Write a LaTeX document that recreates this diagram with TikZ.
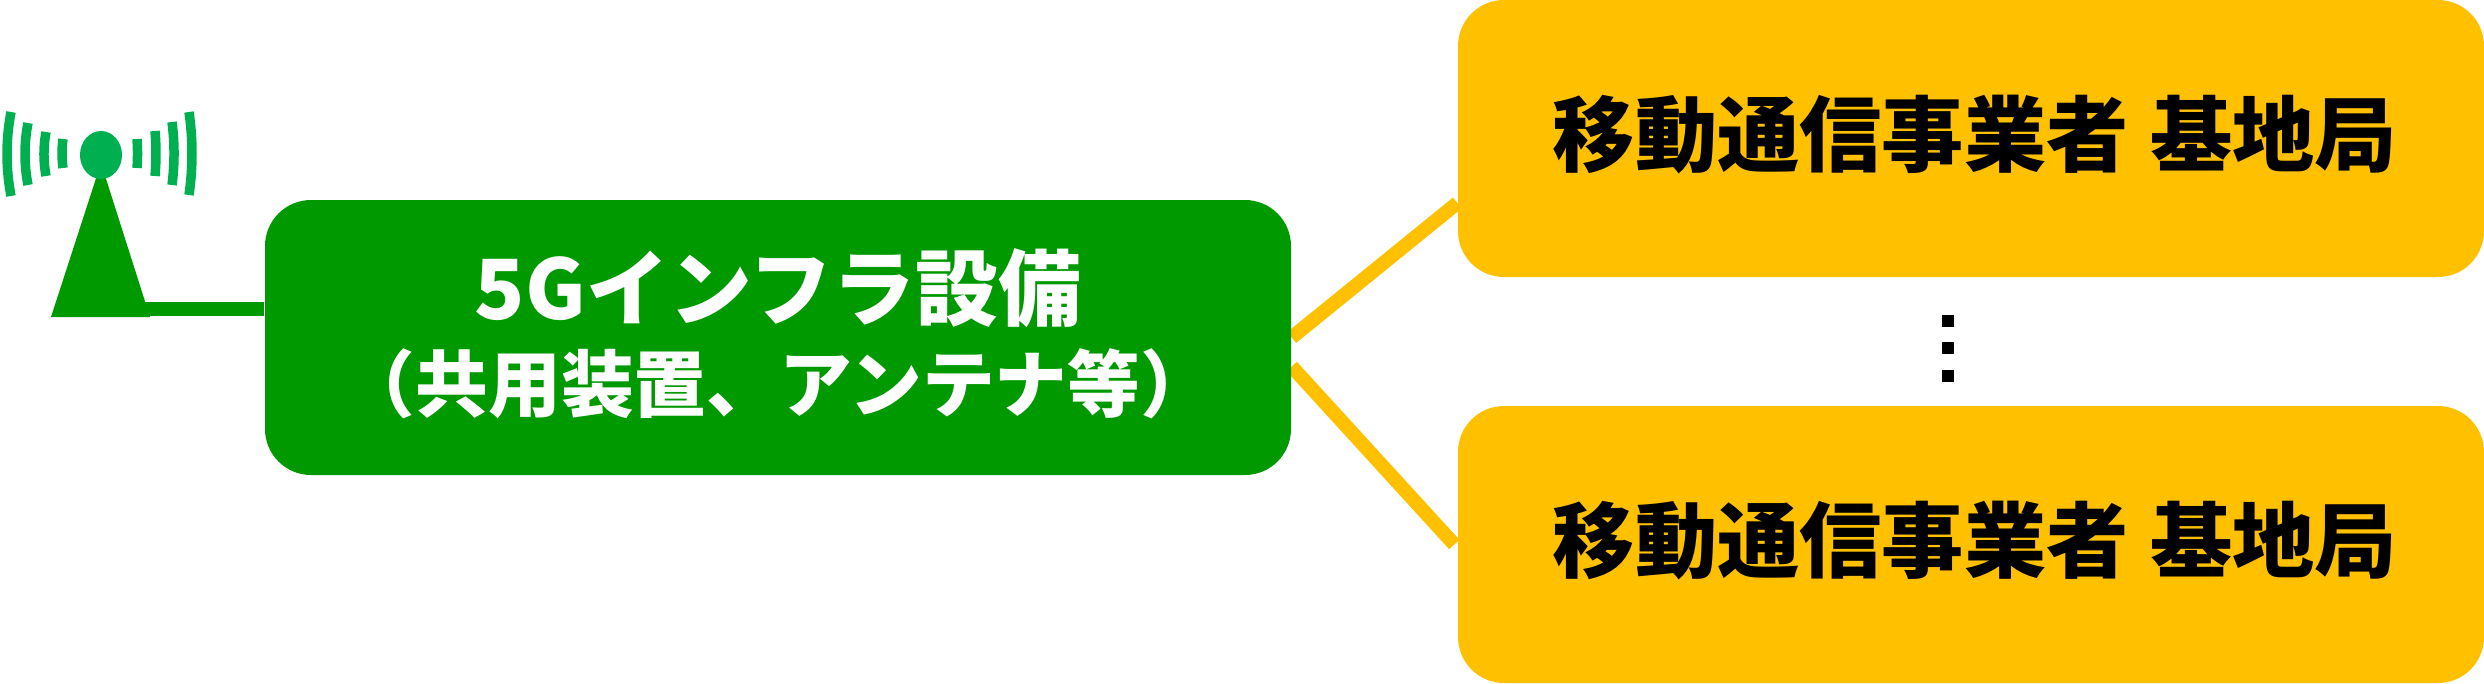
\documentclass[tikz,border=0pt]{standalone}
\usepackage{fontspec}
\setmainfont{Noto Sans CJK JP}
\usepackage{tikz}
\usetikzlibrary{backgrounds}
\definecolor{infragreen}{HTML}{009900}
\definecolor{wavegreen}{HTML}{00B050}
\definecolor{stationorange}{HTML}{FFC000}
\tikzset{
    infrabox/.style={fill=infragreen,text=white,font=\bfseries,align=center,rounded corners=0.46cm,
        minimum width=10.26cm,minimum height=2.75cm,inner sep=0pt},
    stationbox/.style={fill=stationorange,text=black,font=\bfseries,align=center,rounded corners=0.46cm,
        minimum width=10.26cm,minimum height=2.77cm,inner sep=0pt},
    feedline/.style={line width=0.14cm},
    waveline/.style={wavegreen,line width=0.095cm},
    vdot/.style={fill=black,minimum size=0.12cm,inner sep=0pt},
}
\newcommand{\lifttext}[1]{\raisebox{0.04cm}[\height][\depth]{#1}}
\newcommand{\stationtext}{\fontsize{23.4pt}{28pt}\selectfont\hspace*{0.08cm}\lifttext{移動通信事業者\hspace{0.22cm}基地局}}
\begin{document}
\begin{tikzpicture}
        \useasboundingbox (0,0) rectangle (24.84,6.83);
        % --- Boxes ---
        \node[infrabox] (infra) at (7.78,3.455) {\fontsize{23.6pt}{27pt}\selectfont\lifttext{5Gインフラ設備}\\[0.17cm]\fontsize{20.7pt}{27pt}\selectfont\lifttext{（共用装置、アンテナ等）}};
        \node[stationbox] (upper) at (19.71,5.445) {\stationtext};
        \node[stationbox] (lower) at (19.71,1.385) {\stationtext};
        % --- Links ---
        \begin{scope}[on background layer]
            \draw[feedline,stationorange] (infra.east) -- ([yshift=-0.645cm]upper.west);
            \draw[feedline,stationorange] ([yshift=-0.29cm]infra.east) -- ([xshift=-0.03cm]lower.west);
        \end{scope}
        % --- Antenna ---
        \begin{scope}
            \fill[infragreen] (0.51,3.66) -- (1.50,3.66) -- (1.01,5.20) -- cycle;
            \fill[wavegreen] (1.01,5.28) ellipse (0.21 and 0.24);
            \coordinate (mast) at (1.45,3.74);
            \foreach \xa/\xc/\ytop/\ybot in {0.11/0.057/5.71/4.87,0.28/0.24/5.60/4.98,0.46/0.433/5.51/5.07,0.63/0.617/5.44/5.15,
                1.37/1.377/5.44/5.15,1.55/1.563/5.52/5.07,1.72/1.747/5.61/4.98,1.89/1.93/5.71/4.88}
                \draw[waveline] (\xa,\ytop) .. controls ({\xc},{\ytop-(\ytop-\ybot)/3}) and ({\xc},{\ybot+(\ytop-\ybot)/3}) .. (\xa,\ybot);
        \end{scope}
        \begin{scope}[on background layer]
            \draw[feedline,infragreen] (mast) -- ([yshift=0.285cm]infra.west);
        \end{scope}
        % --- Dots ---
        \node[vdot] (dota) at (19.48,3.62) {};
        \node[vdot] (dotb) at (19.48,3.35) {};
        \node[vdot] (dotc) at (19.48,3.07) {};
    \end{tikzpicture}
\end{document}
